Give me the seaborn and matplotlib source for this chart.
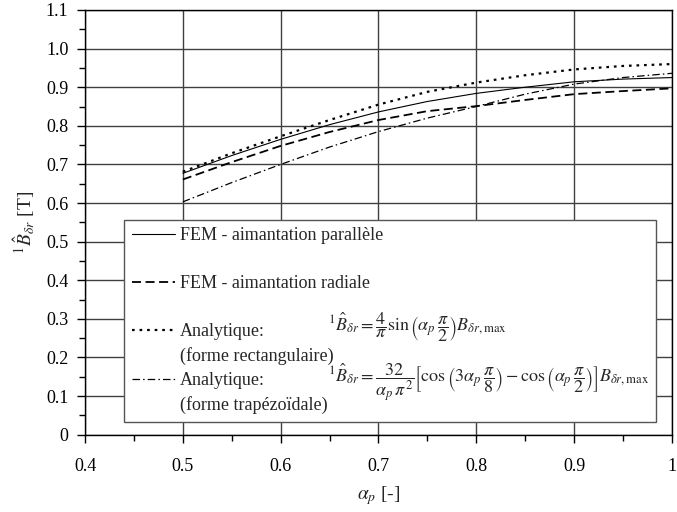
import matplotlib
matplotlib.use("Agg")
import matplotlib.pyplot as plt
import seaborn as sns
from matplotlib.lines import Line2D
from matplotlib.ticker import MultipleLocator

# values
alpha_p = [0.5, 0.55, 0.6, 0.65, 0.7, 0.75, 0.8, 0.85, 0.9, 0.95, 1.0]
fem_parallele = [0.677, 0.723, 0.765, 0.803, 0.836, 0.863, 0.884, 0.900, 0.914, 0.921, 0.925]
fem_radiale = [0.661, 0.706, 0.748, 0.784, 0.815, 0.838, 0.851, 0.867, 0.882, 0.890, 0.897]
analytique_rect = [0.681, 0.729, 0.773, 0.815, 0.855, 0.888, 0.912, 0.931, 0.946, 0.955, 0.960]
analytique_trap = [0.603, 0.653, 0.700, 0.745, 0.785, 0.820, 0.850, 0.882, 0.908, 0.925, 0.936]

x_ticks = [0.4, 0.5, 0.6, 0.7, 0.8, 0.9, 1.0]
x_ticklabels = ["0.4", "0.5", "0.6", "0.7", "0.8", "0.9", "1"]
y_ticks = [0.0, 0.1, 0.2, 0.3, 0.4, 0.5, 0.6, 0.7, 0.8, 0.9, 1.0, 1.1]
y_ticklabels = ["0", "0.1", "0.2", "0.3", "0.4", "0.5", "0.6", "0.7", "0.8", "0.9", "1.0", "1.1"]

labels = ["FEM - aimantation parallèle", "FEM - aimantation radiale",
          "Analytique:", "Analytique:"]
sublabels = [None, None, "(forme rectangulaire)", "(forme trapézoïdale)"]

formule_rect = r"$^{1}\hat{B}_{\delta r} = \dfrac{4}{\pi}\sin\left(\alpha_p\,\dfrac{\pi}{2}\right)B_{\delta r,\max}$"
formule_trap = (r"$^{1}\hat{B}_{\delta r} = \dfrac{32}{\alpha_p\,\pi^2}\left[\cos\left(3\alpha_p\,\dfrac{\pi}{8}\right)"
                r" - \cos\left(\alpha_p\,\dfrac{\pi}{2}\right)\right]B_{\delta r,\max}$")

sns.set_style("ticks")
plt.rcParams["font.family"] = ["Liberation Serif", "DejaVu Serif"]
plt.rcParams["mathtext.fontset"] = "stix"

fig = plt.figure(figsize=(6.77, 5.12), dpi=100)
ax = fig.add_axes([0.1256, 0.151, 0.8669, 0.8295])
ax.set_axisbelow(True)
ax.grid(True, which="major", color="#404040", lw=1.0)

styles = [
    dict(linestyle="-", lw=0.8),
    dict(linestyle=(0, (5, 2.5)), lw=1.3),
    dict(linestyle=(0, (1.2, 2.2)), lw=1.6),
    dict(linestyle=(0, (6, 2.5, 1.2, 2.5)), lw=0.9),
]
series = [fem_parallele, fem_radiale, analytique_rect, analytique_trap]

handles, leg_labels = [], []
for vals, st, lab, sub in zip(series, styles, labels, sublabels):
    sns.lineplot(x=alpha_p, y=vals, ax=ax, color="black", **st)
    handles.append(Line2D([], [], color="black", **st))
    leg_labels.append(lab)
    handles.append(Line2D([], [], color="none"))
    leg_labels.append(sub if sub else " ")

ax.set_xlim(0.4, 1.0)
ax.set_ylim(0, 1.1)
ax.set_xticks(x_ticks)
ax.set_xticklabels(x_ticklabels)
ax.set_yticks(y_ticks)
ax.set_yticklabels(y_ticklabels)
ax.xaxis.set_minor_locator(MultipleLocator(0.05))
ax.yaxis.set_minor_locator(MultipleLocator(0.05))
ax.tick_params(axis="both", which="major", direction="out", length=6, width=1,
               color="black", labelsize=13, labelcolor="black")
ax.tick_params(axis="both", which="minor", direction="out", length=4, width=1, color="black")
ax.tick_params(axis="x", which="major", pad=11)
ax.tick_params(axis="y", which="major", pad=6)
for sp in ax.spines.values():
    sp.set_visible(True)
    sp.set_color("black")
    sp.set_linewidth(1.0)

ax.set_xlabel(r"$\alpha_p$ [-]", fontsize=14, labelpad=6)
ax.set_ylabel(r"$^{1}\hat{B}_{\delta r}$ [T]", fontsize=14, labelpad=6)

leg = ax.legend(handles, leg_labels, loc="lower left",
                bbox_to_anchor=(0.067, 0.031, 0.906, 0.486), mode="expand",
                borderaxespad=0, frameon=True, fancybox=False, framealpha=1,
                edgecolor="#555555", fontsize=13, handlelength=2.4,
                handletextpad=0.3, labelspacing=0.39, borderpad=0.4)
leg.get_frame().set_linewidth(1.0)
leg.set_zorder(5)

ax.text(0.414, 0.252, formule_rect, transform=ax.transAxes, fontsize=13,
        va="center", ha="left", zorder=10)
ax.text(0.414, 0.121, formule_trap, transform=ax.transAxes, fontsize=13,
        va="center", ha="left", zorder=10)

fig.savefig("out.png", dpi=100)
